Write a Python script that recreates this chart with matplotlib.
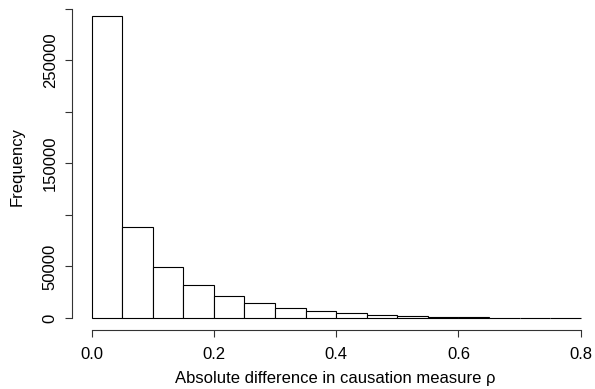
import matplotlib
matplotlib.use("Agg")
import matplotlib.pyplot as plt
import numpy as np

# Histogram data (bin edges and counts)
bin_edges = [0.0, 0.05, 0.1, 0.15, 0.2, 0.25, 0.3, 0.35, 0.4,
             0.45, 0.5, 0.55, 0.6, 0.65, 0.7, 0.75, 0.8]
counts = [293000, 87900, 49600, 32100, 21400, 14600, 9700, 6800,
          4500, 2900, 1600, 1000, 600, 400, 250, 150]

x_ticks = [0.0, 0.2, 0.4, 0.6, 0.8]
x_ticklabels = ["0.0", "0.2", "0.4", "0.6", "0.8"]
y_ticks = [0, 50000, 100000, 150000, 200000, 250000, 300000]
y_ticklabels = ["0", "50000", "", "150000", "", "250000", ""]

plt.rcParams['font.family'] = ['Liberation Sans', 'DejaVu Sans']

W, H = 595, 389
fig = plt.figure(figsize=(W / 100, H / 100), dpi=100)

# plot region in pixels (R style, 4% padding)
left_px, top_px, bottom_px = 71.7, 4.0, 330.0
x0_px, x8_px = 91.5, 580.7
ppu = (x8_px - x0_px) / 0.8
xmin = -(x0_px - left_px) / ppu
xmax = (W - x0_px) / ppu
ax = fig.add_axes([left_px / W, 1 - bottom_px / H, 1 - left_px / W, (bottom_px - top_px) / H])

lefts = np.array(bin_edges[:-1])
widths = np.diff(bin_edges)
ax.bar(lefts, counts, width=widths, align='edge', facecolor='white',
       edgecolor='black', linewidth=0.8)

ymax_data = max(counts)
ax.set_xlim(xmin, xmax)
ax.set_ylim(-0.04 * ymax_data, 1.04 * ymax_data)

# R-like axes: line only between first and last tick
for s in ['top', 'right']:
    ax.spines[s].set_visible(False)
ax.spines['left'].set_bounds(0, 300000)
ax.spines['bottom'].set_bounds(0, 0.8)
for s in ['left', 'bottom']:
    ax.spines[s].set_linewidth(0.8)
    ax.spines[s].set_color('#333333')

ax.set_xticks(x_ticks)
ax.set_xticklabels(x_ticklabels, fontsize=12)
ax.set_yticks(y_ticks)
ax.set_yticklabels(y_ticklabels, fontsize=12, rotation=90, va='center')
ax.tick_params(direction='out', length=5, width=0.8, color='#333333')
ax.tick_params(axis='x', pad=7)
ax.tick_params(axis='y', pad=5)

fig.text(335 / W, 1 - 378 / H, "Absolute difference in causation measure \u03c1",
         ha='center', va='center', fontsize=12)
fig.text(17 / W, 1 - 166 / H, "Frequency", ha='center', va='center',
         rotation=90, fontsize=12)

fig.savefig("out.png", dpi=100)
